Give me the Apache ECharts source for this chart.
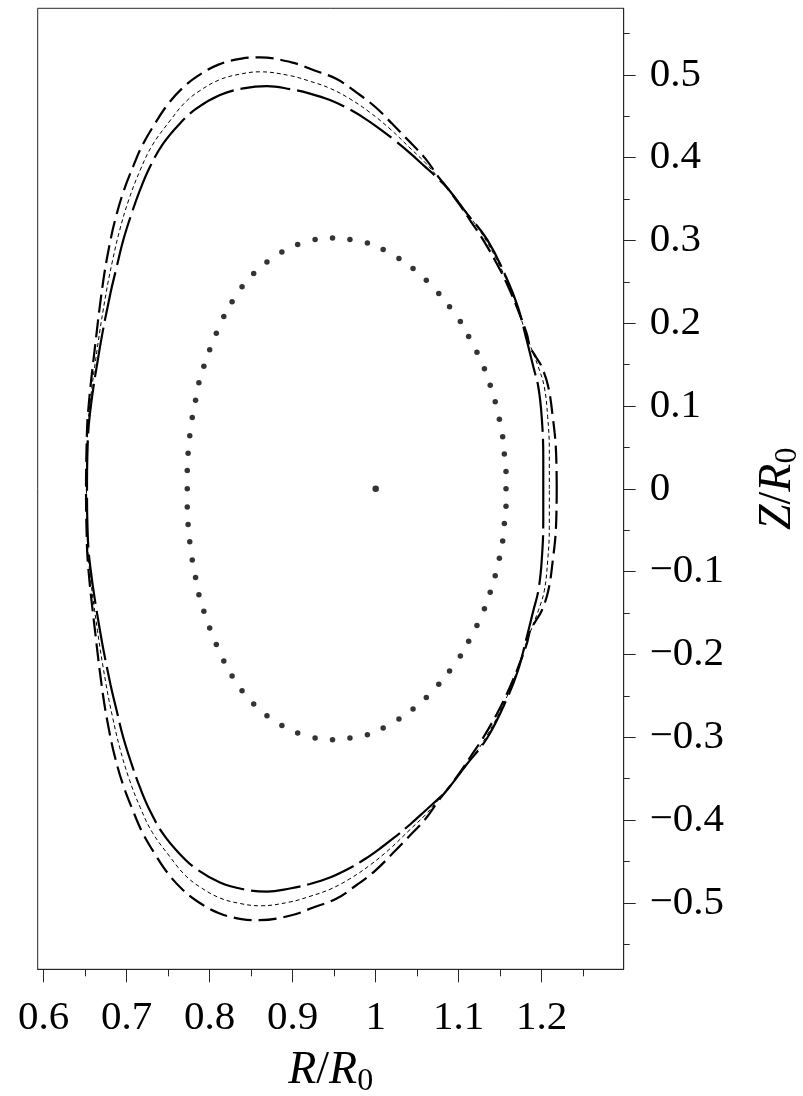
<!DOCTYPE html>
<html><head><meta charset="utf-8">
<script src="https://cdn.jsdelivr.net/npm/echarts@6/dist/echarts.min.js"></script>
<style>html,body{margin:0;padding:0;background:#fff}#c{width:803px;height:1096px}</style>
</head><body><div id="c"></div>
<script>
// Outer boundary (long dashes)
const outerR = [1.2181,1.2172,1.2133,1.2079,1.2000,1.1931,1.1860,1.1819,1.1699,1.1578,1.1458,1.1296,1.1136,1.1015,1.0859,1.0763,1.0594,1.0401,1.0202,0.9992,0.9771,0.9530,0.9248,0.8986,0.8606,0.8383,0.8106,0.7853,0.7672,0.7498,0.7341,0.7190,0.7082,0.6961,0.6865,0.6793,0.6714,0.6618,0.6534,0.6516,0.6510,
0.6516,0.6534,0.6618,0.6714,0.6793,0.6865,0.6961,0.7082,0.7190,0.7341,0.7498,0.7672,0.7853,0.8106,0.8383,0.8606,0.8986,0.9248,0.9530,0.9771,0.9992,1.0202,1.0401,1.0594,1.0763,1.0859,1.1015,1.1136,1.1296,1.1458,1.1578,1.1699,1.1819,1.1860,1.1931,1.2000,1.2079,1.2133,1.2172,1.2181];
const outerZ = [0,0.0467,0.0870,0.1232,0.1473,0.1591,0.1715,0.1877,0.2198,0.2481,0.2722,0.3004,0.3245,0.3426,0.3638,0.3758,0.3994,0.4199,0.4405,0.4614,0.4785,0.4948,0.5057,0.5150,0.5210,0.5196,0.5123,0.4984,0.4839,0.4646,0.4411,0.4151,0.3903,0.3589,0.3263,0.2943,0.2484,0.1711,0.0914,0.0467,0,
-0.0467,-0.0914,-0.1711,-0.2484,-0.2943,-0.3263,-0.3589,-0.3903,-0.4151,-0.4411,-0.4646,-0.4839,-0.4984,-0.5123,-0.5196,-0.5210,-0.5150,-0.5057,-0.4948,-0.4785,-0.4614,-0.4405,-0.4199,-0.3994,-0.3758,-0.3638,-0.3426,-0.3245,-0.3004,-0.2722,-0.2481,-0.2198,-0.1877,-0.1715,-0.1591,-0.1473,-0.1232,-0.0870,-0.0467,0];

// Middle boundary (thin short dashes)
const middleR = [1.2092,1.2092,1.2072,1.2031,1.1959,1.1829,1.1708,1.1582,1.1341,1.1076,1.0859,1.0739,1.0594,1.0414,1.0172,0.9931,0.9690,0.9449,0.9208,0.8967,0.8606,0.8365,0.8124,0.7883,0.7702,0.7528,0.7310,0.7163,0.7024,0.6916,0.6831,0.6752,0.6648,0.6546,0.6522,0.6516,
0.6522,0.6546,0.6648,0.6752,0.6831,0.6916,0.7024,0.7163,0.7310,0.7528,0.7702,0.7883,0.8124,0.8365,0.8606,0.8967,0.9208,0.9449,0.9690,0.9931,1.0172,1.0414,1.0594,1.0739,1.0859,1.1076,1.1341,1.1582,1.1708,1.1829,1.1959,1.2031,1.2072,1.2092,1.2092];
const middleZ = [0,0.0467,0.0870,0.1232,0.1473,0.1820,0.2182,0.2509,0.2979,0.3366,0.3638,0.3777,0.3942,0.4115,0.4347,0.4545,0.4709,0.4837,0.4922,0.4990,0.5036,0.5008,0.4942,0.4809,0.4665,0.4453,0.4151,0.3849,0.3487,0.3124,0.2762,0.2364,0.1711,0.0914,0.0467,0,
-0.0467,-0.0914,-0.1711,-0.2364,-0.2762,-0.3124,-0.3487,-0.3849,-0.4151,-0.4453,-0.4665,-0.4809,-0.4942,-0.5008,-0.5036,-0.4990,-0.4922,-0.4837,-0.4709,-0.4545,-0.4347,-0.4115,-0.3942,-0.3777,-0.3638,-0.3366,-0.2979,-0.2509,-0.2182,-0.1820,-0.1473,-0.1232,-0.0870,-0.0467,0];

// Inner boundary (long segments, small gaps)
const innerR = [1.2019,1.2019,1.2000,1.1959,1.1899,1.1819,1.1714,1.1588,1.1347,1.1076,1.0859,1.0739,1.0594,1.0414,1.0233,1.0052,0.9871,0.9690,0.9449,0.9208,0.8967,0.8690,0.8405,0.8124,0.7843,0.7642,0.7441,0.7281,0.7160,0.7060,0.6959,0.6880,0.6805,0.6678,0.6558,0.6528,0.6522,
0.6528,0.6558,0.6678,0.6805,0.6880,0.6959,0.7060,0.7160,0.7281,0.7441,0.7642,0.7843,0.8124,0.8405,0.8690,0.8967,0.9208,0.9449,0.9690,0.9871,1.0052,1.0233,1.0414,1.0594,1.0739,1.0859,1.1076,1.1347,1.1588,1.1714,1.1819,1.1899,1.1959,1.2000,1.2019,1.2019];
const innerZ = [0,0.0386,0.0870,0.1232,0.1473,0.1796,0.2194,0.2520,0.3003,0.3354,0.3638,0.3758,0.3891,0.4054,0.4205,0.4344,0.4471,0.4580,0.4695,0.4773,0.4827,0.4864,0.4836,0.4755,0.4594,0.4413,0.4171,0.3889,0.3607,0.3326,0.3004,0.2681,0.2364,0.1711,0.0914,0.0467,0,
-0.0467,-0.0914,-0.1711,-0.2364,-0.2681,-0.3004,-0.3326,-0.3607,-0.3889,-0.4171,-0.4413,-0.4594,-0.4755,-0.4836,-0.4864,-0.4827,-0.4773,-0.4695,-0.4580,-0.4471,-0.4344,-0.4205,-0.4054,-0.3891,-0.3758,-0.3638,-0.3354,-0.3003,-0.2520,-0.2194,-0.1796,-0.1473,-0.1232,-0.0870,-0.0386,0];

// Dotted flux surface (discrete points)
const dotR = [1.157,1.157,1.155,1.153,1.149,1.144,1.138,1.131,1.122,1.112,1.102,1.089,1.076,1.061,1.045,1.028,1.009,0.990,0.969,0.948,0.927,0.906,0.887,0.869,0.853,0.839,0.827,0.817,0.808,0.800,0.793,0.787,0.783,0.779,0.776,0.774,0.773,0.773,
0.773,0.774,0.776,0.779,0.783,0.787,0.793,0.800,0.808,0.817,0.827,0.839,0.853,0.869,0.887,0.906,0.927,0.948,0.969,0.990,1.009,1.028,1.045,1.061,1.076,1.089,1.102,1.112,1.122,1.131,1.138,1.144,1.149,1.153,1.155,1.157];
const dotZ = [0,0.021,0.042,0.063,0.084,0.105,0.125,0.145,0.165,0.184,0.202,0.220,0.236,0.252,0.266,0.278,0.289,0.297,0.301,0.303,0.301,0.295,0.286,0.274,0.260,0.244,0.226,0.208,0.188,0.168,0.148,0.128,0.107,0.086,0.064,0.043,0.022,0,
-0.022,-0.043,-0.064,-0.086,-0.107,-0.128,-0.148,-0.168,-0.188,-0.208,-0.226,-0.244,-0.260,-0.274,-0.286,-0.295,-0.301,-0.303,-0.301,-0.297,-0.289,-0.278,-0.266,-0.252,-0.236,-0.220,-0.202,-0.184,-0.165,-0.145,-0.125,-0.105,-0.084,-0.063,-0.042,-0.021];

// Magnetic axis
const axisR = [1.0];
const axisZ = [0];

// Ticks
const xMajorTicks = [0.6,0.7,0.8,0.9,1.0,1.1,1.2];
const xTickLabels = ['0.6','0.7','0.8','0.9','1','1.1','1.2'];
const xMinorTicks = [0.65,0.75,0.85,0.95,1.05,1.15,1.25];
const yMajorTicks = [-0.5,-0.4,-0.3,-0.2,-0.1,0,0.1,0.2,0.3,0.4,0.5];
const yTickLabels = ['\u22120.5','\u22120.4','\u22120.3','\u22120.2','\u22120.1','0','0.1','0.2','0.3','0.4','0.5'];
const yMinorTicks = [-0.55,-0.45,-0.35,-0.25,-0.15,-0.05,0.05,0.15,0.25,0.35,0.45,0.55];

const X_MIN = 0.5928, X_MAX = 1.2988, Y_MIN = -0.5803, Y_MAX = 0.5803;
const FONT = '"Liberation Serif","DejaVu Serif",serif';
const AX = '#262626';

const zip = (R, Z) => R.map((r, i) => [r, Z[i]]);
const lab = (ticks, labels) => v => { const i = ticks.findIndex(t => Math.abs(t - v) < 1e-9); return i >= 0 ? labels[i] : ''; };
const nameRich = {
  i: {fontFamily: FONT, fontStyle: 'italic', fontSize: 46, color: '#000', lineHeight: 52},
  n: {fontFamily: FONT, fontSize: 46, color: '#000', lineHeight: 52},
  s: {fontFamily: FONT, fontSize: 32, color: '#000', lineHeight: 32, verticalAlign: 'bottom'}
};

const chart = echarts.init(document.getElementById('c'), null, {renderer: 'canvas'});
chart.setOption({
  animation: false,
  backgroundColor: '#fff',
  grid: {left: 37.7, right: 179.3, top: 8.3, bottom: 126.7, show: true, borderColor: AX, borderWidth: 1,
         containLabel: false, outerBoundsMode: 'none'},
  xAxis: [
    {type: 'value', min: X_MIN, max: X_MAX, position: 'bottom',
     axisLine: {show: true, onZero: false, lineStyle: {color: AX, width: 1}},
     axisTick: {show: true, customValues: xMajorTicks, length: 13, lineStyle: {color: AX, width: 1}},
     axisLabel: {customValues: xMajorTicks, formatter: lab(xMajorTicks, xTickLabels), fontFamily: FONT, fontSize: 41, color: '#000', margin: 28},
     splitLine: {show: false},
     name: '{i|R}{n|/}{i|R}{s|0}', nameLocation: 'middle', nameGap: 76,
     nameTextStyle: {rich: nameRich}},
    {type: 'value', min: X_MIN, max: X_MAX, position: 'bottom',
     axisLine: {show: false, onZero: false},
     axisTick: {show: true, customValues: xMinorTicks, length: 7, lineStyle: {color: AX, width: 1}},
     axisLabel: {show: false}, splitLine: {show: false}}
  ],
  yAxis: [
    {type: 'value', min: Y_MIN, max: Y_MAX, position: 'right',
     axisLine: {show: true, onZero: false, lineStyle: {color: AX, width: 1}},
     axisTick: {show: true, customValues: yMajorTicks, length: 12, lineStyle: {color: AX, width: 1}},
     axisLabel: {customValues: yMajorTicks, formatter: lab(yMajorTicks, yTickLabels), fontFamily: FONT, fontSize: 41, color: '#000', margin: 26},
     splitLine: {show: false},
     name: '{i|Z}{n|/}{i|R}{s|0}', nameLocation: 'middle', nameGap: 128,
     nameTextStyle: {rich: nameRich}},
    {type: 'value', min: Y_MIN, max: Y_MAX, position: 'right',
     axisLine: {show: false, onZero: false},
     axisTick: {show: true, customValues: yMinorTicks, length: 6, lineStyle: {color: AX, width: 1}},
     axisLabel: {show: false}, splitLine: {show: false}}
  ],
  series: [
    {type: 'line', xAxisIndex: 0, yAxisIndex: 0, data: zip(outerR, outerZ), symbol: 'none', smooth: 0.4,
     lineStyle: {color: '#000', width: 2.2, type: [18, 7]}},
    {type: 'line', xAxisIndex: 0, yAxisIndex: 0, data: zip(middleR, middleZ), symbol: 'none', smooth: 0.4,
     lineStyle: {color: '#000', width: 1, type: [4, 3]}},
    {type: 'line', xAxisIndex: 0, yAxisIndex: 0, data: zip(innerR, innerZ), symbol: 'none', smooth: 0.4,
     lineStyle: {color: '#000', width: 2.2, type: [50, 7]}},
    {type: 'scatter', xAxisIndex: 0, yAxisIndex: 0, data: zip(dotR, dotZ), symbol: 'circle', symbolSize: 5.5,
     itemStyle: {color: '#000'}},
    {type: 'scatter', xAxisIndex: 0, yAxisIndex: 0, data: zip(axisR, axisZ), symbol: 'circle', symbolSize: 6.5,
     itemStyle: {color: '#000'}}
  ]
});
</script></body></html>
